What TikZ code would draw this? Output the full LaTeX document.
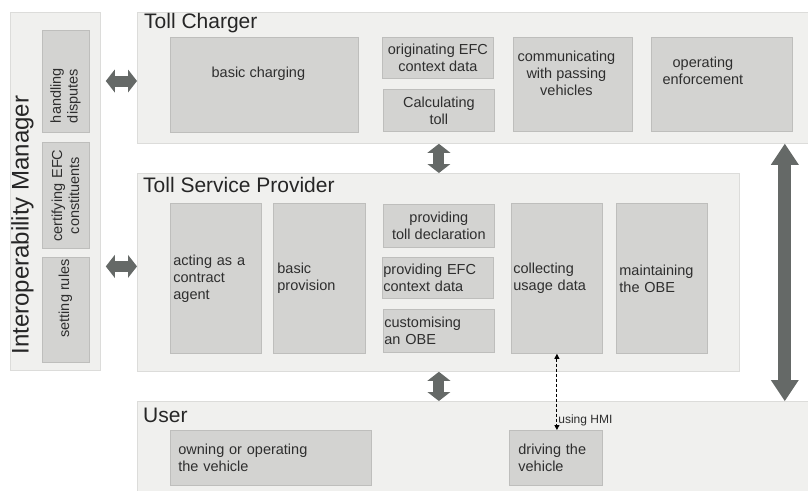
\documentclass[tikz,border=0pt]{standalone}
\usepackage{fontspec}
\setmainfont{Liberation Sans}
\usetikzlibrary{positioning,arrows.meta}

\definecolor{panelfill}{HTML}{F0F0EE}
\definecolor{paneldraw}{HTML}{DCDCDA}
\definecolor{cellfill}{HTML}{D3D3D1}
\definecolor{celldraw}{HTML}{BEBEBC}
\definecolor{inktext}{HTML}{2E2E2E}
\definecolor{arrowgray}{HTML}{656967}

\tikzstyle{panel} = [
    rectangle,                 % Shape
    draw=paneldraw,            % Light border
    fill=panelfill,            % Very light background
    line width=0.8pt,
    anchor=north west,
    inner sep=0pt
]
\tikzstyle{cell} = [
    rectangle,
    draw=celldraw,
    fill=cellfill,             % Darker grey for the roles
    line width=0.8pt,
    anchor=north west,
    inner xsep=3pt,
    inner ysep=0pt,
    text=inktext,
    font=\fontsize{14.5}{17}\selectfont
]
\tikzstyle{vcell} = [cell, rotate=90, anchor=center]
\tikzstyle{celltext} = [text=inktext, align=center, inner sep=0pt, font=\fontsize{14.5}{17}\selectfont]
\tikzstyle{paneltitle} = [anchor=west, inner sep=0pt, text=black!85, font=\fontsize{21}{24}\selectfont]
\tikzstyle{fatarrow} = [arrowgray, line width=11pt,
    {Triangle[length=9pt,width=23pt,line width=0pt]}-{Triangle[length=9pt,width=23pt,line width=0pt]}]
\tikzstyle{bigarrow} = [arrowgray, line width=13pt,
    {Triangle[length=21pt,width=28pt,line width=0pt]}-{Triangle[length=21pt,width=28pt,line width=0pt]}]
\tikzstyle{hmiarrow} = [black, line width=0.9pt, dash pattern=on 3pt off 2pt,
    {Triangle[length=5pt,width=5pt]}-{Triangle[length=5pt,width=5pt]}]

\begin{document}
\begin{tikzpicture}[x=1pt, y=-1pt]
		\useasboundingbox (0,0) rectangle (808,490);

		% Panels
		\node[panel, minimum width=90pt, minimum height=358pt] (im) at (10,12) {};
		\node[panel, minimum width=675pt, minimum height=131pt] (tc) at (137,12) {};
		\node[panel, minimum width=602pt, minimum height=198pt] (tsp) at (137,173) {};
		\node[panel, minimum width=675pt, minimum height=95pt] (user) at (137,401) {};

		\node[rotate=90, inner sep=0pt, text=black!85, font=\fontsize{24}{27}\selectfont] (imtitle) at (22.5,225) {Interoperability Manager};
		\node[paneltitle] (tctitle) at (144,23) {Toll Charger};
		\node[paneltitle] (tsptitle) at (143,185) {Toll Service Provider};
		\node[paneltitle] (usertitle) at (143,415) {User};

		% Interoperability Manager roles
		\node[vcell, minimum width=102pt, minimum height=47pt, inner xsep=9pt, text width=84pt, align=left] (disputes) at (65.5,81) {handling\\disputes};
		\node[vcell, minimum width=105pt, minimum height=47pt, text width=100pt, align=center] (certify) at (65.5,195.5) {certifying EFC\\constituents};
		\node[vcell, minimum width=105pt, minimum height=47pt,
		      label={[celltext, yshift=11pt, rotate=90]center:setting rules}] (rules) at (65.5,309.5) {};

		% Toll Charger roles
		\node[cell, minimum width=188pt, minimum height=95pt,
		      label={[celltext, xshift=-6pt, yshift=11pt]center:basic charging}] (charging) at (170,37) {};
		\node[cell, minimum width=111pt, minimum height=41pt, align=center] (origin) at (382,37) {originating EFC\\context data};
		\node[cell, minimum width=111pt, minimum height=42pt, align=center] (calctoll) at (383,89) {Calculating\\toll};
		\node[cell, minimum width=119pt, minimum height=94pt,
		      label={[celltext, xshift=-6.5pt, yshift=11pt]center:communicating\\with passing\\vehicles}] (passing) at (513,37) {};
		\node[cell, minimum width=141pt, minimum height=94pt,
		      label={[celltext, xshift=-19pt, yshift=14pt]center:operating\\enforcement}] (enforce) at (651,37) {};

		% Toll Service Provider roles
		\node[cell, minimum width=91pt, minimum height=150pt, text width=85pt, align=left] (agent) at (170,203) {acting as a\\contract\\agent};
		\node[cell, minimum width=92pt, minimum height=150pt, inner xsep=4pt, text width=84pt, align=left] (provision) at (273,203) {basic\\provision};
		\node[cell, minimum width=111pt, minimum height=43pt, align=center] (declare) at (383,204) {providing\\toll declaration};
		\node[cell, minimum width=111pt, minimum height=41pt, inner xsep=1pt, text width=109pt, align=left] (efcdata) at (382,257) {providing EFC\\context data};
		\node[cell, minimum width=111pt, minimum height=43pt, inner xsep=1pt, text width=109pt, align=left] (custom) at (383,309) {customising\\an OBE};
		\node[cell, minimum width=91pt, minimum height=150pt, inner xsep=2pt, text width=87pt, align=left] (usage) at (511,203) {collecting\\usage data};
		\node[cell, minimum width=91pt, minimum height=150pt, text width=85pt, align=left] (maintain) at (616,203) {maintaining\\the OBE};

		% User roles
		\node[cell, minimum width=201pt, minimum height=55pt, inner xsep=8pt, text width=185pt, align=left] (owning) at (170,430) {owning or operating\\the vehicle};
		\node[cell, minimum width=93pt, minimum height=55pt, inner xsep=9pt, text width=75pt, align=left] (driving) at (509,430) {driving the\\vehicle};

		% Arrows
		\coordinate (tspin) at ([yshift=6pt]tsp.west);
		\draw[fatarrow, shorten <=5pt] (im.east |- disputes) -- (tc.west |- disputes);
		\draw[fatarrow, shorten <=5pt] (im.east |- tspin) -- (tspin);
		\draw[fatarrow] (calctoll.center |- tc.south) -- (calctoll.center |- tsp.north);
		\draw[fatarrow] (custom.center |- tsp.south) -- (custom.center |- user.north);
		\draw[bigarrow] ([xshift=-8pt]enforce.south east |- tc.south) -- ([xshift=-8pt]enforce.south east |- user.north);
		\draw[hmiarrow] (usage.south) -- (usage.south |- driving.north)
		      node[pos=0.88, right, inner sep=1pt, text=inktext, font=\fontsize{12}{14}\selectfont] (hmi) {using HMI};
	\end{tikzpicture}
\end{document}
